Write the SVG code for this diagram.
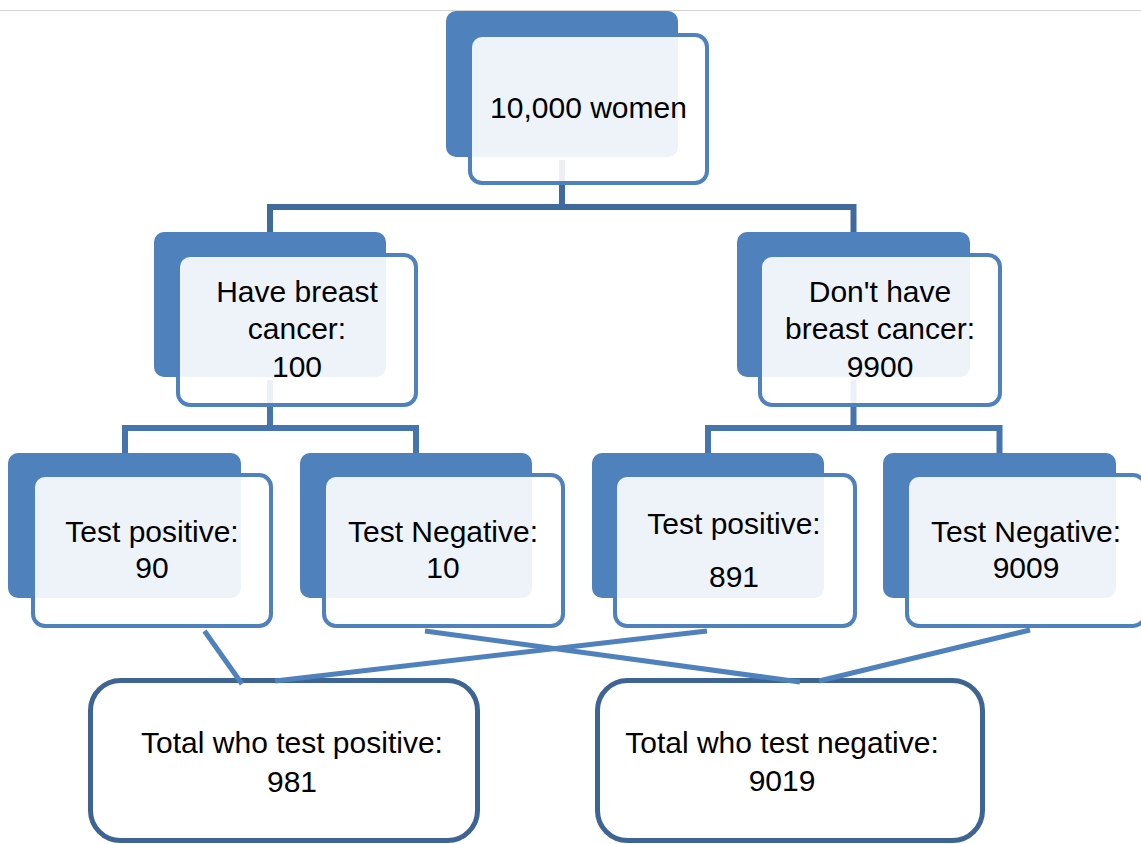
<svg xmlns="http://www.w3.org/2000/svg" width="1141" height="844" viewBox="0 0 1141 844">
<style>
.back{fill:#4F81BD}
.front{fill:#FFFFFF;fill-opacity:0.9;stroke:#4F81BD;stroke-width:4}
.total{fill:#FFFFFF;stroke:#3E6494;stroke-width:5}
.t{font-family:"Liberation Sans",Arial,sans-serif;font-size:30px;fill:#000000;text-anchor:middle}
.c1{fill:none;stroke:#40699C;stroke-width:6}
.c2{fill:none;stroke:#4674AD;stroke-width:6}
.c3{fill:none;stroke:#4F81BD;stroke-width:5}
</style>
<rect x="0" y="0" width="1141" height="844" fill="#FFFFFF"/>
<line x1="0" y1="10.5" x2="1141" y2="10.5" stroke="#D4D4D4" stroke-width="1"/>
<g id="connectors">
<path class="c1" d="M562 160 V207 M270 207 H854 M270 204 V234 M853.5 204 V234"/>
<path class="c2" d="M270 380 V428 M125 428 H416 M125 425 V455 M416 425 V455"/>
<path class="c2" d="M853.5 380 V428 M708 428 H999.5 M708 425 V455 M999.5 425 V455"/>
</g>
<g id="n-root">
<rect class="back" x="446" y="11" width="232" height="146" rx="10"/>
<rect class="front" x="470" y="35" width="237" height="148" rx="12"/>
<text class="t" x="588.5" y="118">10,000 women</text>
</g>
<g id="n-have">
<rect class="back" x="154" y="232" width="232" height="145" rx="10"/>
<rect class="front" x="178" y="255" width="238" height="150" rx="12"/>
<text class="t" x="297" y="302">Have breast</text>
<text class="t" x="297" y="339">cancer:</text>
<text class="t" x="297" y="377">100</text>
</g>
<g id="n-donthave">
<rect class="back" x="737" y="232" width="233" height="145" rx="10"/>
<rect class="front" x="760" y="255" width="240" height="150" rx="12"/>
<text class="t" x="880" y="302">Don't have</text>
<text class="t" x="880" y="339">breast cancer:</text>
<text class="t" x="880" y="377">9900</text>
</g>
<g id="n-pos1">
<rect class="back" x="8" y="453" width="233" height="145" rx="10"/>
<rect class="front" x="33" y="475" width="238" height="151" rx="12"/>
<text class="t" x="152" y="542">Test positive:</text>
<text class="t" x="152" y="578">90</text>
</g>
<g id="n-neg1">
<rect class="back" x="300" y="453" width="232" height="145" rx="10"/>
<rect class="front" x="324" y="475" width="239" height="151" rx="12"/>
<text class="t" x="443" y="542">Test Negative:</text>
<text class="t" x="443" y="578">10</text>
</g>
<g id="n-pos2">
<rect class="back" x="592" y="453" width="232" height="145" rx="10"/>
<rect class="front" x="615" y="475" width="240" height="151" rx="12"/>
<text class="t" x="734" y="534">Test positive:</text>
<text class="t" x="734" y="587">891</text>
</g>
<g id="n-neg2">
<rect class="back" x="883" y="453" width="233" height="145" rx="10"/>
<rect class="front" x="907" y="475" width="238" height="151" rx="12"/>
<text class="t" x="1026" y="542">Test Negative:</text>
<text class="t" x="1026" y="578">9009</text>
</g>
<g id="n-totalpos">
<rect class="total" x="90.5" y="680.5" width="387" height="160" rx="30"/>
<text class="t" x="292" y="753">Total who test positive:</text>
<text class="t" x="292" y="792">981</text>
</g>
<g id="n-totalneg">
<rect class="total" x="597.5" y="680.5" width="385" height="160" rx="30"/>
<text class="t" x="782" y="753">Total who test negative:</text>
<text class="t" x="782" y="791">9019</text>
</g>
<g id="connectors-bottom">
<path class="c3" d="M204.5 631 L242 684"/>
<path class="c3" d="M275 681 L707 631"/>
<path class="c3" d="M425 631 L800 682"/>
<path class="c3" d="M819 681 L1030 630"/>
</g>
</svg>
